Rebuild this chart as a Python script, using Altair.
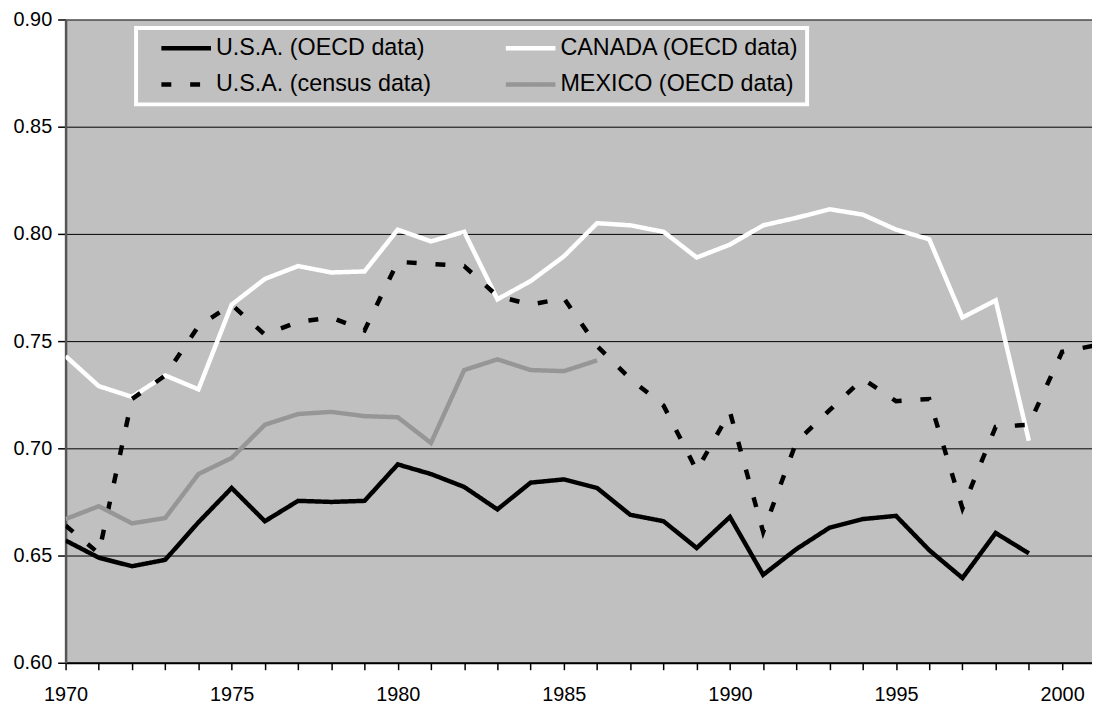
import altair as alt
import pandas as pd

years = list(range(1970, 2002))

usa_oecd = [0.657, 0.649, 0.645, 0.648, 0.6655, 0.6815, 0.666, 0.6755, 0.675, 0.6755,
            0.6925, 0.688, 0.682, 0.6715, 0.684, 0.6855, 0.6815, 0.669, 0.666, 0.6535,
            0.668, 0.641, 0.653, 0.663, 0.667, 0.6685, 0.6525, 0.6395, 0.6605, 0.651]

canada = [0.743, 0.729, 0.724, 0.734, 0.7275, 0.767, 0.779, 0.785, 0.782, 0.7825,
          0.802, 0.7965, 0.801, 0.7695, 0.778, 0.7895, 0.805, 0.804, 0.801, 0.789,
          0.795, 0.804, 0.8075, 0.8115, 0.809, 0.802, 0.7975, 0.761, 0.769, 0.7035]

mexico = [0.667, 0.673, 0.665, 0.6675, 0.688, 0.6955, 0.711, 0.716, 0.717, 0.715,
          0.7145, 0.7025, 0.7365, 0.7415, 0.7365, 0.736, 0.741]

usa_census = [0.664, 0.651, 0.723, 0.734, 0.757, 0.767, 0.753, 0.759, 0.761, 0.755,
              0.787, 0.786, 0.785, 0.771, 0.767, 0.770, 0.7477, 0.7324, 0.720, 0.6897,
              0.717, 0.661, 0.703, 0.7178, 0.7324, 0.722, 0.723, 0.672, 0.710, 0.711,
              0.745, 0.748]

# drawing order (later on top)
series_names = ["U.S.A. (OECD data)", "CANADA (OECD data)",
                "U.S.A. (census data)", "MEXICO (OECD data)"]
series_values = [usa_oecd, canada, usa_census, mexico]

# legend order (filled column by column)
legend_order = ["U.S.A. (OECD data)", "U.S.A. (census data)",
                "CANADA (OECD data)", "MEXICO (OECD data)"]
color_range = ["#000000", "#000000", "#ffffff", "#969696"]
dash_range = [[1, 0], [10, 19], [1, 0], [1, 0]]

y_ticks = [0.60, 0.65, 0.70, 0.75, 0.80, 0.85, 0.90]
x_ticks = list(range(1970, 2001))

rows = []
for name, vals in zip(series_names, series_values):
    for yr, v in zip(years, vals):
        rows.append({"year": yr, "value": v, "series": name})
df = pd.DataFrame(rows)

FONT = "Liberation Sans"

legend = alt.Legend(
    title=None,
    orient="none",
    legendX=71,
    legendY=8.5,
    columns=2,
    symbolType="M-2.5,0H2.5",
    symbolSize=400,
    symbolStrokeWidth=4.5,
    symbolOffset=30,
    labelOffset=17.5,
    labelFont=FONT,
    labelFontSize=23.5,
    labelColor="#000000",
    labelLimit=600,
    columnPadding=57,
    rowPadding=12.5,
    padding=8,
    fillColor="#c0c0c0",
    strokeColor="#ffffff",
)

chart = alt.Chart(df).mark_line(strokeWidth=4.5, clip=True, strokeCap="butt").encode(
    x=alt.X(
        "year:Q",
        scale=alt.Scale(domain=[1970, 2000.9], nice=False, zero=False),
        axis=alt.Axis(
            values=x_ticks,
            format="d",
            labelExpr="datum.value % 5 === 0 ? datum.label : ''",
            title=None,
            grid=False,
            tickSize=7,
            tickColor="#000000",
            tickWidth=1.5,
            labelPadding=15,
            labelFlush=False,
            labelOverlap=False,
            labelFont=FONT,
            labelFontSize=20,
            labelColor="#000000",
            domainColor="#000000",
            domainWidth=2,
        ),
    ),
    y=alt.Y(
        "value:Q",
        scale=alt.Scale(domain=[0.6, 0.9], nice=False, zero=False),
        axis=alt.Axis(
            values=y_ticks,
            format=".2f",
            title=None,
            grid=True,
            gridColor="#000000",
            gridWidth=1,
            tickSize=8,
            tickColor="#000000",
            tickWidth=1.5,
            labelPadding=6,
            labelFont=FONT,
            labelFontSize=20,
            labelColor="#000000",
            domainColor="#555555",
            domainWidth=2.5,
        ),
    ),
    color=alt.Color("series:N",
                    scale=alt.Scale(domain=legend_order, range=color_range),
                    legend=legend),
    strokeDash=alt.StrokeDash("series:N",
                              scale=alt.Scale(domain=legend_order, range=dash_range),
                              legend=legend),
).properties(
    width=1034,
    height=648,
    autosize=alt.AutoSizeParams(type="none"),
    padding={"left": 58, "top": 9, "right": 0, "bottom": 40},
).configure_view(
    fill="#c0c0c0",
    stroke="transparent",
).configure_legend(
    strokeWidth=4,
)

chart.save("out.html", embed_options={"renderer": "svg", "actions": False})
